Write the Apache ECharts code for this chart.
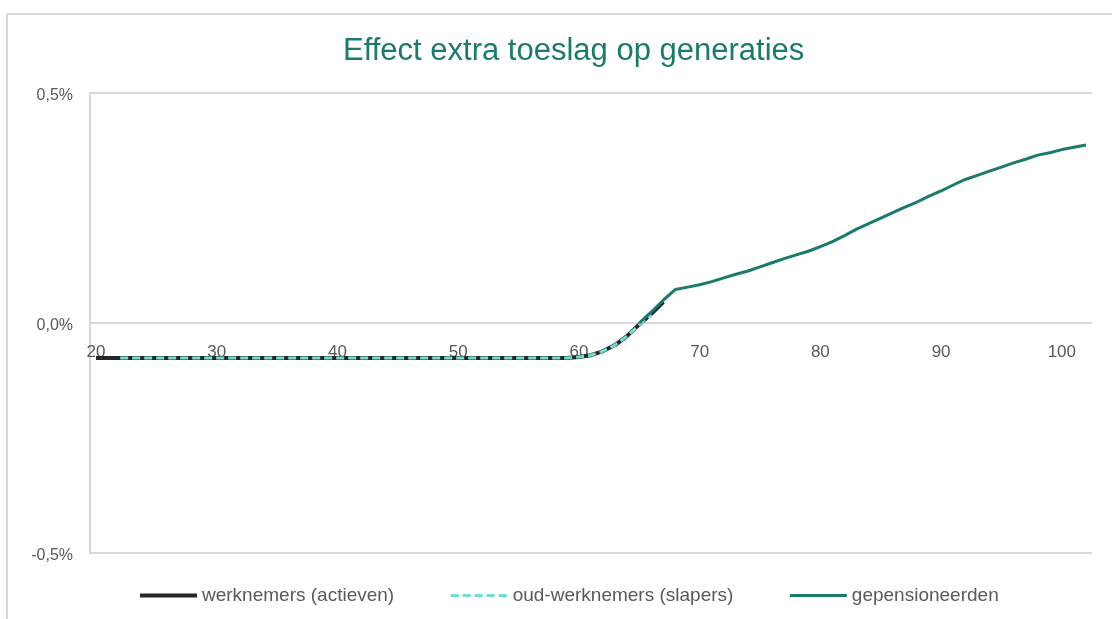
<!DOCTYPE html>
<html>
<head>
<meta charset="utf-8">
<script src="https://cdn.jsdelivr.net/npm/echarts@6/dist/echarts.min.js"></script>
<style>
html,body{margin:0;padding:0;background:#fff;}
#c{width:1112px;height:619px;}
</style>
</head>
<body>
<div id="c"></div>
<script>
// Ages 20..102
var ages = [];
for (var a = 20; a <= 102; a++) ages.push(String(a));

var xTickLabels = ['20','30','40','50','60','70','80','90','100'];
var yTicks = [-0.5, 0, 0.5];

// values in percent
var werknemers = {
  20:-0.076,21:-0.076,22:-0.076,23:-0.076,24:-0.076,25:-0.076,26:-0.076,27:-0.076,28:-0.076,29:-0.076,
  30:-0.076,31:-0.076,32:-0.076,33:-0.076,34:-0.076,35:-0.076,36:-0.076,37:-0.076,38:-0.076,39:-0.076,
  40:-0.076,41:-0.076,42:-0.076,43:-0.076,44:-0.076,45:-0.076,46:-0.076,47:-0.076,48:-0.076,49:-0.076,
  50:-0.076,51:-0.076,52:-0.076,53:-0.076,54:-0.076,55:-0.076,56:-0.076,57:-0.076,58:-0.076,59:-0.076,
  60:-0.074,61:-0.070,62:-0.061,63:-0.048,64:-0.028,65:-0.003,66:0.020,67:0.046
};
var slapers = {
  22:-0.076,23:-0.076,24:-0.076,25:-0.076,26:-0.076,27:-0.076,28:-0.076,29:-0.076,
  30:-0.076,31:-0.076,32:-0.076,33:-0.076,34:-0.076,35:-0.076,36:-0.076,37:-0.076,38:-0.076,39:-0.076,
  40:-0.076,41:-0.076,42:-0.076,43:-0.076,44:-0.076,45:-0.076,46:-0.076,47:-0.076,48:-0.076,49:-0.076,
  50:-0.076,51:-0.076,52:-0.076,53:-0.076,54:-0.076,55:-0.076,56:-0.076,57:-0.076,58:-0.076,59:-0.076,
  60:-0.074,61:-0.070,62:-0.061,63:-0.048,64:-0.028,65:-0.004,66:0.018
};
var gepensioneerden = {
  65:0.000,66:0.024,67:0.050,68:0.073,69:0.078,
  70:0.083,71:0.090,72:0.098,73:0.106,74:0.113,75:0.122,76:0.131,77:0.140,78:0.148,79:0.156,
  80:0.166,81:0.177,82:0.190,83:0.204,84:0.216,85:0.228,86:0.240,87:0.252,88:0.263,89:0.276,
  90:0.287,91:0.300,92:0.312,93:0.321,94:0.330,95:0.339,96:0.348,97:0.356,98:0.365,99:0.370,
  100:0.377,101:0.382,102:0.387
};

function toSeries(obj){
  return ages.map(function(a){ return obj[a] !== undefined ? obj[a] : null; });
}

var chart = echarts.init(document.getElementById('c'), null, {renderer:'canvas'});
var font = 'Liberation Sans, Arial, sans-serif';
chart.setOption({
  animation:false,
  backgroundColor:'#ffffff',
  title:{
    text:'Effect extra toeslag op generaties',
    left:338, top:31,
    textStyle:{color:'#1a7a6b', fontSize:31, fontWeight:'normal', fontFamily:font}
  },
  graphic:[
    {type:'line', shape:{x1:7, y1:14, x2:1112, y2:14}, style:{stroke:'#d9d9d9', lineWidth:2}, silent:true},
    {type:'line', shape:{x1:7, y1:14, x2:7, y2:619}, style:{stroke:'#d9d9d9', lineWidth:2}, silent:true}
  ],
  grid:{left:90, right:20, top:93, bottom:66, containLabel:false},
  legend:{
    bottom:9, left:133,
    itemWidth:57, itemHeight:14, itemGap:55,
    textStyle:{color:'#595959', fontSize:19, fontFamily:font},
    itemStyle:{opacity:0},
    data:[
      {name:'werknemers (actieven)', lineStyle:{width:4, color:'#262626'}},
      {name:'oud-werknemers (slapers)', lineStyle:{width:3, color:'#6fded0', type:[8,4]}},
      {name:'gepensioneerden', lineStyle:{width:3, color:'#1a7a6b'}}
    ]
  },
  xAxis:{
    type:'category',
    data:ages,
    boundaryGap:true,
    offset:-230,
    axisLine:{show:false, onZero:false},
    axisTick:{show:false},
    axisLabel:{
      color:'#595959', fontSize:17, fontFamily:font, margin:21,
      interval:function(i, v){ return xTickLabels.indexOf(v) >= 0; }
    },
    splitLine:{show:false}
  },
  yAxis:{
    type:'value',
    min:-0.5, max:0.5, interval:0.5,
    axisLine:{show:true, lineStyle:{color:'#d9d9d9', width:2}},
    axisTick:{show:false},
    axisLabel:{
      color:'#595959', fontSize:16, fontFamily:font, margin:17,
      verticalAlign:'top', lineHeight:6,
      formatter:function(v){ return v.toFixed(1).replace('.', ',') + '%'; }
    },
    splitLine:{show:true, lineStyle:{color:'#d9d9d9', width:2}}
  },
  series:[
    {name:'werknemers (actieven)', type:'line', data:toSeries(werknemers), showSymbol:false, symbol:'none',
     lineStyle:{color:'#262626', width:4}, itemStyle:{color:'#262626'}, z:2},
    {name:'oud-werknemers (slapers)', type:'line', data:toSeries(slapers), showSymbol:false, symbol:'none',
     lineStyle:{color:'#6fded0', width:3, type:[8,4]}, itemStyle:{color:'#6fded0'}, z:3},
    {name:'gepensioneerden', type:'line', data:toSeries(gepensioneerden), showSymbol:false, symbol:'none',
     lineStyle:{color:'#1a7a6b', width:3}, itemStyle:{color:'#1a7a6b'}, z:4}
  ]
});
</script>
</body>
</html>
